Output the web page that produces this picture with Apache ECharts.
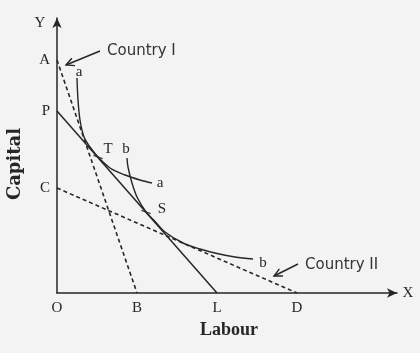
<!DOCTYPE html>
<html>
<head>
<meta charset="utf-8">
<script src="https://cdn.jsdelivr.net/npm/echarts@6/dist/echarts.min.js"></script>
<style>
html,body{margin:0;padding:0;background:#f3f3f3;}
#chart{width:420px;height:353px;}
</style>
</head>
<body>
<div id="chart"></div>
<script>
// ---- data ----
const xTickValues = [0, 8, 16, 24];
const xTickLabels = ['O', 'B', 'L', 'D'];
const yTickValues = [10.5, 18.2, 23.3];
const yTickLabels = ['C', 'P', 'A'];

const lineAB = [[0, 23.3], [8, 0]];     // Country I price line (dashed)
const linePL = [[0, 18.2], [16, 0]];    // common price line (solid)
const lineCD = [[0, 10.5], [24, 0]];    // Country II price line (dashed)

const curveA = [[2.0, 21.5], [2.1, 19.3], [2.3, 17.3], [2.7, 15.6], [3.3, 14.6], [4.1, 13.6],
                [5.3, 12.5], [6.8, 11.8], [8.3, 11.3], [9.5, 11.0]];
const curveB = [[7.0, 13.5], [7.1, 12.6], [7.5, 11.0], [8.0, 9.6], [8.9, 8.1], [9.8, 7.15],
                [10.8, 6.1], [12.6, 5.0], [14.3, 4.4], [16.0, 3.95], [17.8, 3.6], [19.6, 3.4]];
const pointT = [4.1, 13.6];
const pointS = [8.9, 8.1];

// ---- chart ----
const chart = echarts.init(document.getElementById('chart'), null, {renderer: 'canvas'});
const ink = '#262626';
const serif = '"Liberation Serif", "DejaVu Serif", serif';
const sans = '"DejaVu Sans", sans-serif';

function arrow(tail, head, len, half) {
  const dx = head[0] - tail[0], dy = head[1] - tail[1];
  const L = Math.hypot(dx, dy), ux = dx / L, uy = dy / L;
  const bx = head[0] - ux * len, by = head[1] - uy * len;
  const px = -uy * half, py = ux * half;
  return [
    {type: 'line', shape: {x1: tail[0], y1: tail[1], x2: head[0], y2: head[1]}, style: {stroke: ink, lineWidth: 1.4}},
    {type: 'polyline', shape: {points: [[bx + px, by + py], head, [bx - px, by - py]]}, style: {stroke: ink, lineWidth: 1.4, fill: null}}
  ];
}
function txt(x, y, s, font, extra) {
  return Object.assign({type: 'text', x: x, y: y,
    style: Object.assign({text: s, fill: ink, font: font, textAlign: 'center', textVerticalAlign: 'middle'}, extra || {})});
}

const option = {
  backgroundColor: '#f3f3f3',
  animation: false,
  grid: {left: 57, right: 23, top: 18, bottom: 60, containLabel: false},
  xAxis: {
    type: 'value', min: 0, max: 34,
    splitLine: {show: false},
    axisTick: {show: false},
    axisLine: {show: true, onZero: false, symbol: ['none', 'arrow'], symbolSize: [7, 10],
               lineStyle: {color: ink, width: 1.5}},
    axisLabel: {customValues: xTickValues, formatter: v => xTickLabels[xTickValues.indexOf(v)] || '',
                color: ink, fontFamily: serif, fontSize: 15, margin: 8}
  },
  yAxis: {
    type: 'value', min: 0, max: 27.5,
    splitLine: {show: false},
    axisTick: {show: false},
    axisLine: {show: true, onZero: false, symbol: ['none', 'arrow'], symbolSize: [7, 10],
               lineStyle: {color: ink, width: 1.5}},
    axisLabel: {customValues: yTickValues, formatter: v => yTickLabels[yTickValues.indexOf(v)] || '',
                color: ink, fontFamily: serif, fontSize: 15, margin: 7}
  },
  series: [
    {type: 'line', data: lineAB, symbol: 'none', lineStyle: {color: ink, width: 1.6, type: [4, 3]}},
    {type: 'line', data: linePL, symbol: 'none', lineStyle: {color: ink, width: 1.5}},
    {type: 'line', data: lineCD, symbol: 'none', lineStyle: {color: ink, width: 1.6, type: [4, 3]}},
    {type: 'line', data: curveA, symbol: 'none', smooth: 0.35, lineStyle: {color: ink, width: 1.4}},
    {type: 'line', data: curveB, symbol: 'none', smooth: 0.35, lineStyle: {color: ink, width: 1.4}},
    {type: 'scatter', data: [pointT, pointS], symbol: 'rect', symbolSize: [10, 1.4],
     symbolRotate: -20, itemStyle: {color: ink}}
  ],
  graphic: [
    txt(40, 23, 'Y', '15px ' + serif),
    txt(408, 293, 'X', '15px ' + serif),
    txt(229, 330, 'Labour', 'bold 18px ' + serif),
    Object.assign(txt(0, 0, 'Capital', 'bold 18px "DejaVu Serif", serif'), {x: 15, y: 164, rotation: Math.PI / 2}),
    txt(79, 72, 'a', '15px ' + serif),
    txt(108, 149, 'T', '15px ' + serif),
    txt(126, 149, 'b', '15px ' + serif),
    txt(160, 183, 'a', '15px ' + serif),
    txt(162, 209, 'S', '15px ' + serif),
    txt(263, 263, 'b', '15px ' + serif),
    txt(107, 51, 'Country I', '15px ' + sans, {textAlign: 'left', fill: '#333'}),
    txt(305, 265, 'Country II', '15px ' + sans, {textAlign: 'left', fill: '#333'})
  ].concat(arrow([100, 51], [66, 65], 8, 4)).concat(arrow([298, 264], [274, 276], 8, 4))
};
chart.setOption(option);
</script>
</body>
</html>
